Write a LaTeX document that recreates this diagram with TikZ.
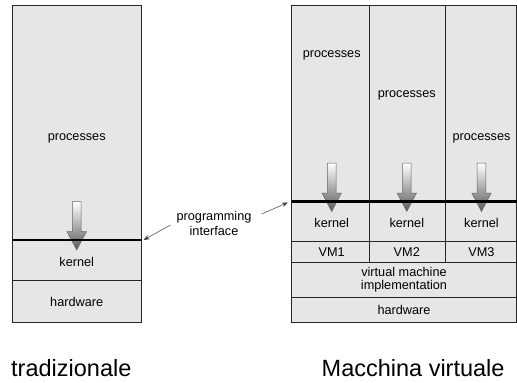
\documentclass[tikz,border=0pt]{standalone}
\usepackage{fontspec}
\setmainfont{Liberation Sans}
\usetikzlibrary{arrows.meta}
\definecolor{boxgray}{RGB}{230,230,230}
\tikzset{
  lbl/.style={font=\fontsize{12.7}{14}\selectfont, inner sep=0pt, anchor=center},
  biglbl/.style={font=\fontsize{23.5}{26}\selectfont, inner sep=0pt},
  boxfill/.style={fill=boxgray, draw=black!85, line width=0.9pt},
  sep/.style={draw=black!85, line width=0.9pt},
  iface/.style={draw=black, line width=2.6pt},
  ptr/.style={draw=black!75, line width=0.5pt, -{Stealth[length=6pt,width=4.5pt]}},
  blockarrow/.style={draw=black!60, line width=0.5pt, top color=white, bottom color=black!65}
}
\newcommand{\blockarr}[4]{% center x, top y, head y, tip y
  \path[blockarrow] (#1-4.3,#2) -- (#1+4.3,#2) -- (#1+4.3,#3) -- (#1+9.7,#3) -- (#1,#4) -- (#1-9.7,#3) -- (#1-4.3,#3) -- cycle;
}
\begin{document}
\begin{tikzpicture}[x=1pt,y=-1pt]
\useasboundingbox (0,0) rectangle (517,383);
% ---------- traditional ----------
\path[boxfill] (12,5) rectangle (141.5,322.5);
\path[sep] (12,280.5) -- (141.5,280.5);
\node[lbl] (procL) at (76.7,138) {processes};
\node[lbl] (kernL) at (76.7,262) {kernel};
\node[lbl] (hwL) at (76.7,302) {hardware};
\blockarr{76.7}{201.7}{231.7}{250}
\path[iface] (12,240) -- (141.5,240);
\coordinate (ifL) at (143.5,240);
% ---------- virtual machine ----------
\path[boxfill] (291.5,5) rectangle (516.5,322.5);
\path[sep] (369,5) -- (369,262.3);
\path[sep] (445,5) -- (445,262.3);
\path[sep] (291.5,241) -- (516.5,241);
\path[sep] (291.5,262.3) -- (516.5,262.3);
\path[sep] (291.5,297.7) -- (516.5,297.7);
\node[lbl] (proc1) at (331.7,55) {processes};
\node[lbl] (proc2) at (406.8,95) {processes};
\node[lbl] (proc3) at (481.5,138) {processes};
\blockarr{331.7}{163}{193}{211.5}
\blockarr{406.8}{163}{193}{211.5}
\blockarr{481.5}{163}{193}{211.5}
\path[iface] (291.5,201.7) -- (516.5,201.7);
\node[lbl] (k1) at (331.7,223) {kernel};
\node[lbl] (k2) at (406.8,223) {kernel};
\node[lbl] (k3) at (481.5,223) {kernel};
\node[lbl] (vm1) at (331.7,252) {VM1};
\node[lbl] (vm2) at (406.8,252) {VM2};
\node[lbl] (vm3) at (481.5,252) {VM3};
\node[lbl, align=center] (vmi) at (404,279.5) {virtual machine\\[-0.5pt]implementation};
\node[lbl] (hwR) at (404,310) {hardware};
\coordinate (ifR) at (288,202.5);
% ---------- programming interface ----------
\node[lbl, align=center] (pi) at (214,223.5) {programming\\[0.5pt]interface};
\coordinate (piL) at (170.5,225);
\coordinate (piR) at (261.5,214);
\draw[ptr] (piL) -- (ifL);
\draw[ptr] (piR) -- (ifR);
% ---------- captions ----------
\node[biglbl, anchor=base west] (capL) at (11,376) {tradizionale};
\node[biglbl, anchor=base west] (capR) at (321.5,376) {Macchina virtuale};
\end{tikzpicture}
\end{document}
